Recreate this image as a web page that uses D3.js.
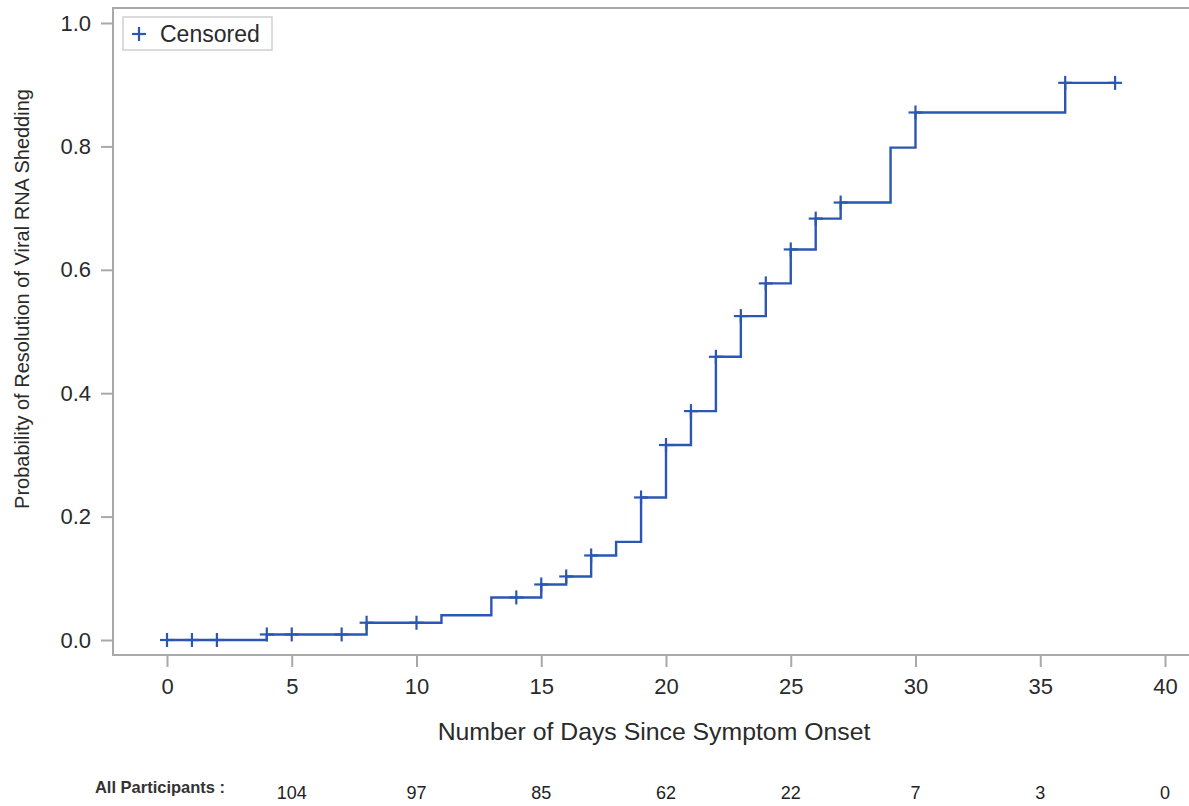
<!DOCTYPE html>
<html>
<head>
<meta charset="utf-8">
<script src="https://cdn.jsdelivr.net/npm/d3@7"></script>
<style>
  body { margin: 0; background: #fff; }
  svg { display: block; font-family: "Liberation Sans", Arial, sans-serif; }
</style>
</head>
<body>
<svg id="km"></svg>
<script>
// ---------------- data ----------------
// days where the curve steps up, and the estimate after each step
const stepDays = [0, 4, 8, 11, 13, 15, 16, 17, 18, 19, 20, 21, 22, 23, 24, 25, 26, 27, 29, 30, 36];
const stepProb = [0, 0.009, 0.028, 0.040, 0.069, 0.090, 0.103, 0.137, 0.159, 0.231, 0.316, 0.371, 0.459, 0.525, 0.578, 0.633, 0.683, 0.709, 0.798, 0.855, 0.903];
const lastDay = 38;
// censored observations (days)
const censorDays = [0, 1, 2, 4, 5, 7, 8, 10, 14, 15, 16, 17, 19, 20, 21, 22, 23, 24, 25, 26, 27, 30, 36, 38];
// number at risk row
const riskDays = [5, 10, 15, 20, 25, 30, 35, 40];
const riskCounts = [104, 97, 85, 62, 22, 7, 3, 0];
const xTicks = [0, 5, 10, 15, 20, 25, 30, 35, 40];
const yTicks = [0, 0.2, 0.4, 0.6, 0.8, 1.0];

// ---------------- layout ----------------
const width = 1189, height = 806;
const frame = {left: 113, top: 8, right: 1191, bottom: 655};
const lineColor = "#2b57b4";
const frameColor = "#a9a9a9";
const textColor = "#2a2a2a";

const svg = d3.select("#km").attr("width", width).attr("height", height);

const xScale = d3.scaleLinear().domain([0, 40]).range([167, 1165]);
const yScale = d3.scaleLinear().domain([0, 1]).range([640, 23]);

// frame
svg.append("rect")
  .attr("x", frame.left).attr("y", frame.top)
  .attr("width", frame.right - frame.left).attr("height", frame.bottom - frame.top)
  .attr("fill", "none").attr("stroke", frameColor).attr("stroke-width", 2);

// y axis
const yAxis = svg.append("g")
  .attr("transform", "translate(" + frame.left + ",0)")
  .call(d3.axisLeft(yScale).tickValues(yTicks).tickFormat(d3.format(".1f")).tickSize(12).tickPadding(10));
yAxis.select(".domain").remove();
yAxis.selectAll(".tick line").attr("stroke", frameColor).attr("stroke-width", 2);
yAxis.selectAll(".tick text")
  .attr("fill", textColor).style("font-size", "22px").style("font-family", "Liberation Sans, Arial, sans-serif");

// x axis
const xAxis = svg.append("g")
  .attr("transform", "translate(0," + frame.bottom + ")")
  .call(d3.axisBottom(xScale).tickValues(xTicks).tickSize(12).tickPadding(11));
xAxis.select(".domain").remove();
xAxis.selectAll(".tick line").attr("stroke", frameColor).attr("stroke-width", 2);
xAxis.selectAll(".tick text")
  .attr("fill", textColor).style("font-size", "22px").style("font-family", "Liberation Sans, Arial, sans-serif");

// axis titles
svg.append("text")
  .attr("x", 654).attr("y", 740)
  .attr("text-anchor", "middle")
  .attr("fill", textColor)
  .style("font-size", "24.8px")
  .text("Number of Days Since Symptom Onset");

svg.append("text")
  .attr("transform", "translate(29,299) rotate(-90)")
  .attr("text-anchor", "middle")
  .attr("fill", textColor)
  .style("font-size", "20px")
  .text("Probability of Resolution of Viral RNA Shedding");

// step curve
const stepData = stepDays.map((d, i) => ({x: d, y: stepProb[i]}));
stepData.push({x: lastDay, y: stepProb[stepProb.length - 1]});
const line = d3.line()
  .x(d => xScale(d.x))
  .y(d => yScale(d.y))
  .curve(d3.curveStepAfter);
svg.append("path")
  .datum(stepData)
  .attr("d", line)
  .attr("fill", "none")
  .attr("stroke", lineColor)
  .attr("stroke-width", 2.4);

// value of the curve at a given day (for censor marks)
function probAt(day) {
  let p = 0;
  for (let i = 0; i < stepDays.length; i++) {
    if (stepDays[i] <= day) p = stepProb[i];
  }
  return p;
}

// censor marks (+)
const marks = svg.append("g")
  .attr("stroke", lineColor).attr("stroke-width", 2.2);
censorDays.forEach(d => {
  const cx = xScale(d), cy = yScale(probAt(d));
  marks.append("line").attr("x1", cx - 7).attr("x2", cx + 7).attr("y1", cy).attr("y2", cy);
  marks.append("line").attr("x1", cx).attr("x2", cx).attr("y1", cy - 7).attr("y2", cy + 7);
});

// legend
const legend = svg.append("g");
legend.append("rect")
  .attr("x", 123).attr("y", 17).attr("width", 149).attr("height", 33)
  .attr("fill", "#fff").attr("stroke", "#cfcfcf").attr("stroke-width", 1.5);
legend.append("line").attr("x1", 132).attr("x2", 146).attr("y1", 34).attr("y2", 34)
  .attr("stroke", lineColor).attr("stroke-width", 2.2);
legend.append("line").attr("x1", 139).attr("x2", 139).attr("y1", 27).attr("y2", 41)
  .attr("stroke", lineColor).attr("stroke-width", 2.2);
legend.append("text")
  .attr("x", 160).attr("y", 42)
  .attr("fill", textColor)
  .style("font-size", "23px")
  .text("Censored");

// number at risk
svg.append("text")
  .attr("x", 160).attr("y", 793)
  .attr("text-anchor", "middle")
  .attr("fill", "#333")
  .style("font-size", "16.5px")
  .style("font-weight", "bold")
  .text("All Participants :");

svg.append("g").selectAll("text")
  .data(riskDays)
  .join("text")
  .attr("x", d => xScale(d))
  .attr("y", 799)
  .attr("text-anchor", "middle")
  .attr("fill", "#222")
  .style("font-size", "18px")
  .text((d, i) => riskCounts[i]);
</script>
</body>
</html>
